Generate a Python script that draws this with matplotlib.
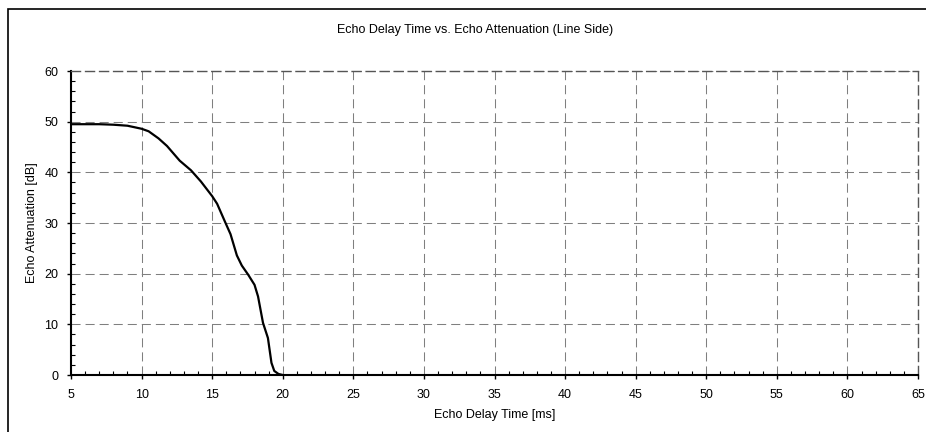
import matplotlib
matplotlib.use("Agg")
import matplotlib.pyplot as plt
from matplotlib.patches import Rectangle
from matplotlib.ticker import MultipleLocator

delay_ms = [5, 6, 7, 8, 9, 10, 10.5, 11.2, 11.8, 12.7, 13.5, 14.2, 15.0, 15.35, 15.9,
            16.3, 16.75, 17.1, 17.55, 18.0, 18.25, 18.6, 18.95, 19.2, 19.4, 19.7, 20.0]
atten_db = [49.5, 49.5, 49.5, 49.4, 49.2, 48.6, 48.1, 46.7, 45.2, 42.3, 40.4, 38.2, 35.3, 33.8, 30.3,
            27.8, 23.6, 21.6, 19.8, 17.8, 15.5, 10.3, 7.3, 2.4, 0.8, 0.2, 0.0]

title = "Echo Delay Time vs. Echo Attenuation (Line Side)"
xlabel = "Echo Delay Time [ms]"
ylabel = "Echo Attenuation [dB]"

plt.rcParams['font.family'] = ['Liberation Sans', 'DejaVu Sans']
FS = 9

W, H = 926, 432
fig = plt.figure(figsize=(W / 100, H / 100), dpi=100)
ax = fig.add_axes([71 / W, 1 - 375 / H, (918 - 71) / W, (375 - 71) / H])

# outer chart border
fig.patches.append(Rectangle((8 / W, -0.2), 1.2, 1.2 - 9 / H, transform=fig.transFigure,
                             fill=False, edgecolor='black', linewidth=1.2))

ax.plot(delay_ms, atten_db, color='black', linewidth=1.6, solid_joinstyle='round')

ax.set_xlim(5, 65)
ax.set_ylim(0, 60)
ax.xaxis.set_major_locator(MultipleLocator(5))
ax.xaxis.set_minor_locator(MultipleLocator(1))
ax.yaxis.set_major_locator(MultipleLocator(10))
ax.yaxis.set_minor_locator(MultipleLocator(2))

dash = (0, (8.7, 4.8))
ax.grid(True, which='major', color='#7f7f7f', linewidth=0.75, linestyle=dash)

for s in ['left', 'bottom']:
    ax.spines[s].set_linewidth(1.5)
    ax.spines[s].set_color('black')
for s in ['top', 'right']:
    ax.spines[s].set_color('#555555')
    ax.spines[s].set_linewidth(1.0)
    ax.spines[s].set_linestyle((0, (6.5, 3.6)))

ax.tick_params(which='major', direction='out', length=3, width=1, labelsize=FS)
ax.tick_params(axis='y', which='major', pad=6)
ax.tick_params(axis='x', which='major', pad=7)
ax.tick_params(which='minor', direction='in', length=3, width=0.8)
ax.tick_params(top=False, right=False, which='both')

fig.text(475 / W, 1 - 30 / H, title, fontsize=FS, ha='center', va='center')
ax.set_xlabel(xlabel, fontsize=FS, labelpad=6)
ax.set_ylabel(ylabel, fontsize=FS, labelpad=5)

fig.savefig("out.png", dpi=100)
